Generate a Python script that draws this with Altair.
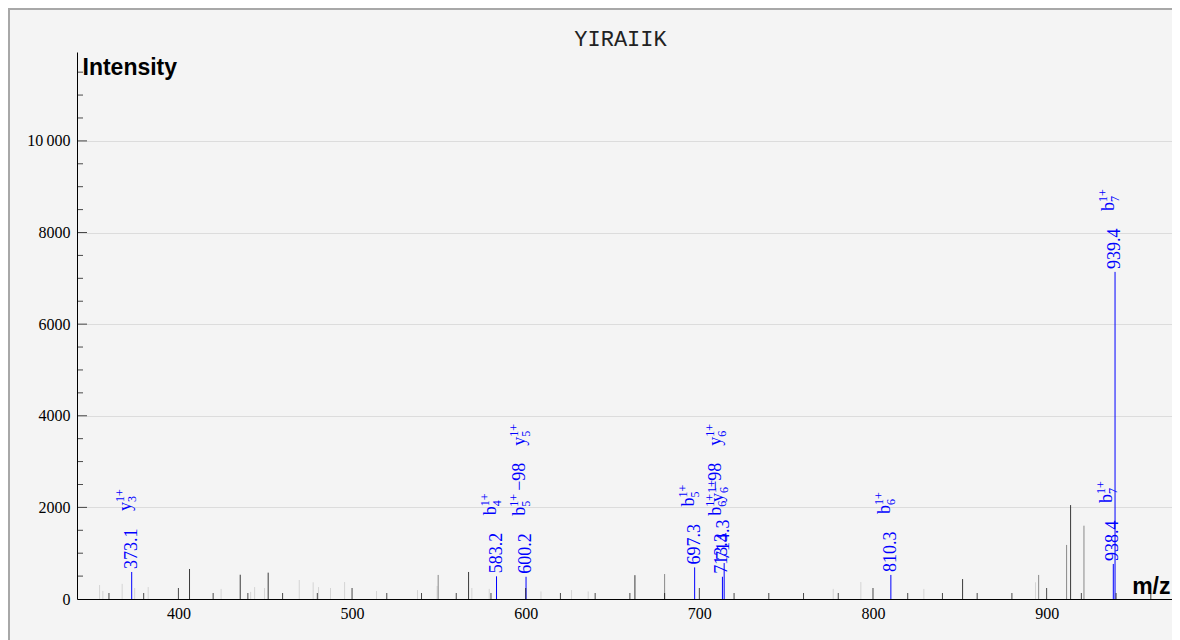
import altair as alt
import pandas as pd

# ---------------- data ----------------
peak_mz = [354.6, 356.5, 367.6, 374.8, 382.6, 406.4, 424.6, 435.6, 441.6, 443.9,
           449.6, 451.7, 469.6, 477.6, 480.7, 487.6, 495.7, 514.1, 537.7, 549.0,
           549.6, 567.1, 569.0, 579.0, 608.8, 626.4, 636.0, 662.9, 680.0, 777.1,
           793.0, 829.3, 851.6, 893.6, 895.4, 911.5, 913.8, 921.5]
peak_int = [305, 175, 330, 240, 260, 655, 220, 530, 155, 260,
            240, 575, 415, 365, 260, 240, 370, 175, 195, 285,
            525, 590, 240, 220, 165, 195, 165, 520, 545, 220,
            370, 220, 435, 365, 525, 1180, 2050, 1600]
peak_shade = ["light", "light", "light", "light", "light", "dark", "light", "dark", "light", "light",
              "light", "dark", "light", "light", "light", "light", "light", "light", "light", "light",
              "medium", "dark", "light", "light", "light", "light", "light", "dark", "medium", "light",
              "light", "light", "dark", "light", "medium", "medium", "dark", "medium"]

# annotated (matched) peaks
ion_mz = [373.1, 583.2, 600.2, 697.3, 713.3, 714.3, 810.3, 938.4, 939.4]
ion_int = [590, 495, 485, 690, 485, 785, 525, 765, 7140]

# annotation labels: peak m/z, stacking slot, ion letter, index, charge, suffix
lab_mz = [373.1, 583.2, 600.2, 600.2, 697.3, 713.3, 713.3, 714.3, 810.3, 938.4, 939.4]
lab_int = [590, 495, 485, 485, 690, 485, 485, 785, 525, 765, 7140]
lab_slot = [1, 1, 1, 2, 1, 1, 2, 1, 1, 1, 1]
lab_ion = ["y", "b", "b", "y", "b", "b", "y", "y", "b", "b", "b"]
lab_sub = ["3", "4", "5", "5", "5", "6", "6", "6", "6", "7", "7"]
lab_sup = ["1+"] * 11
lab_suffix = ["", "", "−98", "", "", "−98", "", "", "", "", ""]

x_major = [400, 500, 600, 700, 800, 900]
x_minor = [360, 380, 420, 440, 460, 480, 520, 540, 560, 580, 620, 640, 660, 680,
           720, 740, 760, 780, 820, 840, 860, 880, 920, 940, 960]
y_major = [2000, 4000, 6000, 8000, 10000]
y_minor = [500, 1000, 1500, 2500, 3000, 3500, 4500, 5000, 5500, 6500, 7000, 7500,
           8500, 9000, 9500, 10500, 11000, 11500]
y_labels = [0, 2000, 4000, 6000, 8000, 10000]

X_DOMAIN = [341.6, 972.2]
Y_DOMAIN = [0, 11940]
TITLE = "YIRAIIK"

# ---------------- styling ----------------
W, H = 1095, 547
SERIF = "Liberation Serif"
SANS = "Liberation Sans"
BLUE = "#0000ff"

peaks = pd.DataFrame({"mz": peak_mz, "intensity": peak_int, "shade": peak_shade})
ions = pd.DataFrame({"mz": ion_mz, "intensity": ion_int})
labels = pd.DataFrame({"mz": lab_mz, "intensity": lab_int, "slot": lab_slot,
                       "ion": lab_ion, "sub": lab_sub, "sup": lab_sup, "suffix": lab_suffix})

xs = alt.Scale(domain=X_DOMAIN, nice=False, zero=False)
ys = alt.Scale(domain=Y_DOMAIN, nice=False, zero=False)

x_axis = alt.Axis(values=x_major, ticks=False, grid=False, domainColor="black", domainWidth=1,
                  labelFont=SERIF, labelFontSize=16, labelColor="black", labelPadding=6,
                  title="m/z", titleFont=SANS, titleFontSize=23, titleFontWeight="bold",
                  titleColor="black", titleX=1093, titleY=-6, titleAlign="right",
                  titleBaseline="alphabetic", titleAnchor="end")
y_axis = alt.Axis(values=y_labels, ticks=False, grid=True, gridColor="#dcdcdc", gridWidth=1,
                  domainColor="black", domainWidth=1,
                  labelFont=SERIF, labelFontSize=16, labelColor="black", labelPadding=7,
                  labelExpr="datum.value >= 10000 ? replace(format(datum.value, ','), ',', '\u2009') : format(datum.value, 'd')",
                  title="Intensity", titleFont=SANS, titleFontSize=23, titleFontWeight="bold",
                  titleColor="black", titleAngle=0, titleX=5, titleY=22, titleAlign="left",
                  titleBaseline="alphabetic", titleAnchor="start")

base_peaks = alt.Chart(peaks).mark_rule(strokeWidth=1).encode(
    x=alt.X("mz:Q", scale=xs, axis=x_axis),
    y=alt.Y("intensity:Q", scale=ys, axis=y_axis),
    y2=alt.datum(0),
    color=alt.Color("shade:N", legend=None,
                    scale=alt.Scale(domain=["light", "medium", "dark"],
                                    range=["#d4d4d4", "#888888", "#3a3a3a"])),
)

ion_rules = alt.Chart(ions).mark_rule(strokeWidth=1, color=BLUE).encode(
    x=alt.X("mz:Q", scale=xs), y=alt.Y("intensity:Q", scale=ys), y2=alt.datum(0))

# inward axis ticks
xmin_df = pd.DataFrame({"v": x_minor})
xmaj_df = pd.DataFrame({"v": x_major})
ymin_df = pd.DataFrame({"v": y_minor})
ymaj_df = pd.DataFrame({"v": y_major})

xt_minor = alt.Chart(xmin_df).mark_tick(orient="vertical", size=6, thickness=1, color="black",
                                        yOffset=-3).encode(
    x=alt.X("v:Q", scale=xs), y=alt.datum(0, scale=ys))
xt_major = alt.Chart(xmaj_df).mark_tick(orient="vertical", size=11, thickness=1, color="black",
                                        yOffset=-5.5).encode(
    x=alt.X("v:Q", scale=xs), y=alt.datum(0, scale=ys))
yt_minor = alt.Chart(ymin_df).mark_tick(orient="horizontal", size=6, thickness=1, color="black",
                                        xOffset=3).encode(
    y=alt.Y("v:Q", scale=ys), x=alt.datum(X_DOMAIN[0], scale=xs))
yt_major = alt.Chart(ymaj_df).mark_tick(orient="horizontal", size=10, thickness=1, color="black",
                                        xOffset=5).encode(
    y=alt.Y("v:Q", scale=ys), x=alt.datum(X_DOMAIN[0], scale=xs))

# number labels
num_labels = alt.Chart(ions).transform_calculate(
    t="format(datum.mz, '.1f')").mark_text(
    angle=270, align="left", baseline="middle", dx=3, dy=0, font=SERIF, fontSize=18,
    color=BLUE).encode(x=alt.X("mz:Q", scale=xs), y=alt.Y("intensity:Q", scale=ys), text="t:N")

SLOT_OFF = {1: 61, 2: 131}
LETTER_W = 9
SUP_W = 13


def part(slot, field, dx, dy, size):
    return alt.Chart(labels).transform_filter(alt.datum.slot == slot).mark_text(
        angle=270, align="left", baseline="alphabetic", dx=dx, dy=dy, font=SERIF,
        fontSize=size, color=BLUE).encode(
        x=alt.X("mz:Q", scale=xs), y=alt.Y("intensity:Q", scale=ys), text=f"{field}:N")


label_layers = []
for s, off in SLOT_OFF.items():
    label_layers += [
        part(s, "ion", off, -1, 18),
        part(s, "sup", off + LETTER_W, -8, 12),
        part(s, "sub", off + LETTER_W, 4, 12),
        part(s, "suffix", off + LETTER_W + SUP_W + 3, -1, 18),
    ]

# outer frame (only left and top edges fall inside the picture)
frame = alt.Chart(pd.DataFrame({"a": [0]})).mark_rect(
    fill="transparent", stroke="#a8a8a8", strokeWidth=2).encode(
    x=alt.value(-68), x2=alt.value(W + 40), y=alt.value(-43), y2=alt.value(H + 120))

chart = alt.layer(
    base_peaks, ion_rules, xt_minor, xt_major, yt_minor, yt_major, num_labels,
    *label_layers, frame
).properties(
    width=W, height=H,
    autosize=alt.AutoSizeParams(type="none"),
    padding={"left": 69, "top": 44, "right": 0, "bottom": 50},
    background="#f4f4f4",
    title=alt.TitleParams(TITLE, font="Liberation Mono", fontSize=22, fontWeight="normal",
                          color="#222222", offset=0, dy=60, baseline="alphabetic",
                          anchor="middle", dx=-4),
).configure_view(stroke=None)

chart.save("out.html", embed_options={"renderer": "svg", "actions": False})
